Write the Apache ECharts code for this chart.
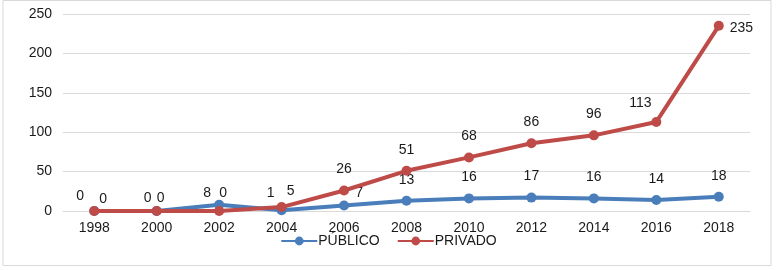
<!DOCTYPE html>
<html>
<head>
<meta charset="utf-8">
<script src="https://cdn.jsdelivr.net/npm/echarts@6/dist/echarts.min.js"></script>
<style>
  html, body { margin: 0; padding: 0; background: #fff; }
  #chart { width: 777px; height: 270px; }
</style>
</head>
<body>
<div id="chart"></div>
<script>
const years = ['1998', '2000', '2002', '2004', '2006', '2008', '2010', '2012', '2014', '2016', '2018'];
const publico = [0, 0, 8, 1, 7, 13, 16, 17, 16, 14, 18];
const privado = [0, 0, 0, 5, 26, 51, 68, 86, 96, 113, 235];
const yTicks = [0, 50, 100, 150, 200, 250];

// label placement tweaks (pixel offsets from the point)
const pubOffsets = [[-14, 6], [-9, 8], [-12, 9], [-11, 4], [15, 9], [0, 0], [0, 0], [0, 0], [0, 0], [0, 0], [0, 0]];
const privOffsets = [[9, 9], [4, 8], [4, 3], [9, 5], [0, 0], [0, 0], [0, 0], [0, 0], [0, 0], [-16, 2], null];

function withLabels(values, offsets) {
    return values.map(function (v, i) {
        if (offsets[i] === null) {
            return { value: v, label: { position: 'right', distance: 6, offset: [0, 2] } };
        }
        return { value: v, label: { offset: offsets[i] } };
    });
}

const chart = echarts.init(document.getElementById('chart'));

chart.setOption({
    animation: false,
    textStyle: { fontFamily: 'Liberation Sans, Arial, sans-serif' },
    graphic: [{
        type: 'rect',
        shape: { x: 3, y: 0.5, width: 768, height: 265 },
        style: { fill: 'none', stroke: '#d9d9d9', lineWidth: 1 },
        silent: true
    }],
    grid: { left: 63, right: 27, top: 14, bottom: 59 },
    legend: {
        bottom: 17,
        left: 'center',
        itemWidth: 36,
        itemHeight: 11,
        itemGap: 17,
        textStyle: { fontSize: 14, color: '#1a1a1a', padding: [0, 0, 0, -4] },
        data: ['PÚBLICO', 'PRIVADO']
    },
    xAxis: {
        type: 'category',
        data: years,
        axisLine: { lineStyle: { color: '#d9d9d9' } },
        axisTick: { show: false },
        axisLabel: { fontSize: 14, color: '#1a1a1a', margin: 10 }
    },
    yAxis: {
        type: 'value',
        min: yTicks[0],
        max: yTicks[yTicks.length - 1],
        interval: 50,
        axisLine: { show: false },
        axisTick: { show: false },
        axisLabel: { fontSize: 14, color: '#1a1a1a', margin: 11 },
        splitLine: { lineStyle: { color: '#d9d9d9' } }
    },
    series: [
        {
            name: 'PÚBLICO',
            type: 'line',
            data: withLabels(publico, pubOffsets),
            symbol: 'circle',
            symbolSize: 10,
            color: '#4a7ebb',
            lineStyle: { width: 4 },
            label: { show: true, position: 'top', distance: 9, fontSize: 14, color: '#1a1a1a' },
            z: 2
        },
        {
            name: 'PRIVADO',
            type: 'line',
            data: withLabels(privado, privOffsets),
            symbol: 'circle',
            symbolSize: 10,
            color: '#be4b48',
            lineStyle: { width: 4 },
            label: { show: true, position: 'top', distance: 9, fontSize: 14, color: '#1a1a1a' },
            z: 3
        }
    ]
});
</script>
</body>
</html>
